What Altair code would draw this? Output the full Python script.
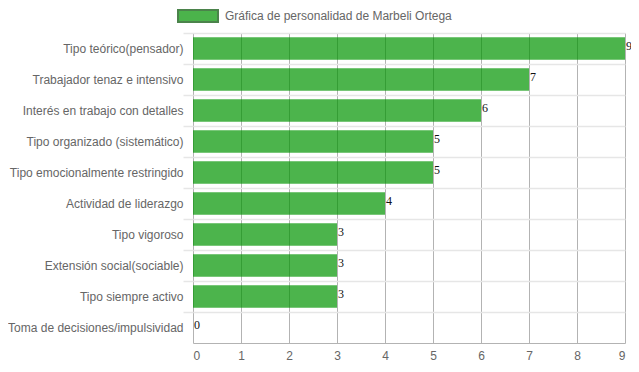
import altair as alt
import pandas as pd

categorias = [
    "Tipo teórico(pensador)",
    "Trabajador tenaz e intensivo",
    "Interés en trabajo con detalles",
    "Tipo organizado (sistemático)",
    "Tipo emocionalmente restringido",
    "Actividad de liderazgo",
    "Tipo vigoroso",
    "Extensión social(sociable)",
    "Tipo siempre activo",
    "Toma de decisiones/impulsividad",
]
valores = [9, 7, 6, 5, 5, 4, 3, 3, 3, 0]
serie = "Gráfica de personalidad de Marbeli Ortega"

df = pd.DataFrame({"cat": categorias, "val": valores, "serie": serie})

FONT = "Liberation Sans"

y_enc = alt.Y(
    "cat:N",
    sort=categorias,
    title=None,
    scale=alt.Scale(paddingInner=0, paddingOuter=0),
    axis=alt.Axis(
        bandPosition=0,
        grid=True,
        gridColor="#e6e6e6",
        gridWidth=1.5,
        ticks=True,
        tickSize=10,
        tickColor="#e6e6e6",
        tickWidth=1.5,
        domain=False,
        labelPadding=0,
        labelFont=FONT,
        labelFontSize=12,
        labelColor="#666666",
        labelLimit=300,
    ),
)

x_enc = alt.X(
    "val:Q",
    title=None,
    scale=alt.Scale(domain=[0, 9], nice=False),
    axis=alt.Axis(
        values=list(range(10)),
        grid=True,
        gridColor="#b3b3b3",
        gridWidth=1,
        domainColor="#b3b3b3",
        ticks=False,
        labelFont=FONT,
        labelFontSize=12,
        labelColor="#666666",
        labelPadding=7,
        format="d",
    ),
)

bars = alt.Chart(df).mark_bar(
    height=alt.RelativeBandSize(0.72), opacity=0.7
).encode(
    y=y_enc,
    x=x_enc,
    color=alt.Color(
        "serie:N",
        scale=alt.Scale(range=["#009400"]),
        legend=alt.Legend(
            title=None,
            orient="none",
            legendX=-16,
            legendY=-38,
            padding=0,
            symbolType="M-1,-0.3H1V0.3H-1Z",
            symbolSize=1600,
            symbolOpacity=0.7,
            symbolStrokeColor="#005000",
            symbolStrokeWidth=2,
            labelFont=FONT,
            labelFontSize=12,
            labelColor="#666666",
            labelLimit=400,
            labelOffset=6,
        ),
    ),
)

labels = alt.Chart(df).mark_text(
    align="left", baseline="middle", dx=1, dy=-3,
    font="Liberation Serif", fontSize=12, color="#111111",
).encode(
    y=alt.Y("cat:N", sort=categorias),
    x=alt.X("val:Q"),
    text=alt.Text("val:Q"),
)

chart = alt.layer(bars, labels).properties(
    width=432,
    height=310,
    autosize=alt.AutoSizeParams(type="none"),
    padding={"left": 185, "top": 25, "right": 6, "bottom": 21},
).configure_view(stroke=None)

chart.save("out.html", embed_options={"renderer": "svg", "actions": False})
